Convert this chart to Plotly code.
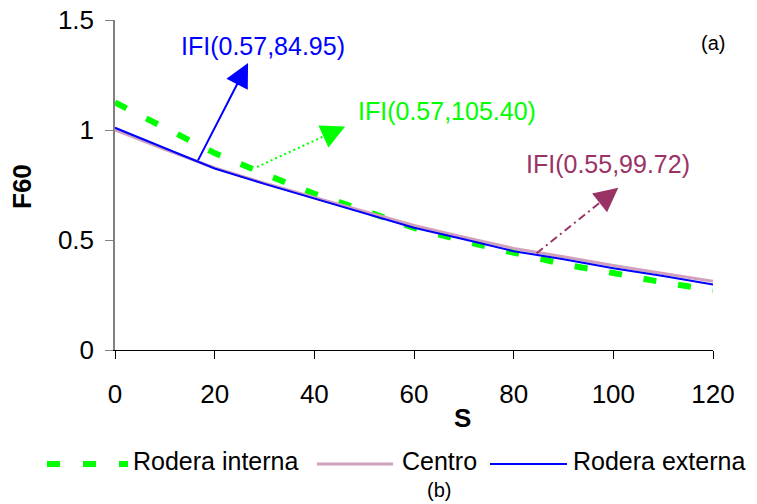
import plotly.graph_objects as go

# Slip speed S and the F60 friction curves for each wheel path
s_values = [0, 10, 20, 30, 40, 50, 60, 70, 80, 90, 100, 110, 120]
rodera_interna = [1.125, 1.01, 0.895, 0.80, 0.71, 0.634, 0.555, 0.495, 0.445, 0.39, 0.35, 0.307, 0.272]
centro = [1.00, 0.912, 0.828, 0.758, 0.693, 0.628, 0.566, 0.513, 0.462, 0.424, 0.384, 0.348, 0.312]
rodera_externa = [1.01, 0.918, 0.825, 0.755, 0.688, 0.620, 0.556, 0.503, 0.449, 0.413, 0.372, 0.336, 0.298]

x_ticks = [0, 20, 40, 60, 80, 100, 120]
y_ticks = [0, 0.5, 1, 1.5]
y_ticktext = ["0", "0.5", "1", "1.5"]

series_names = ["Rodera interna", "Centro", "Rodera externa"]
GREEN = "#00FF00"
PINK = "#D1A0BC"
BLUE = "#0000FF"
PLUM = "#993366"
FONT = "Liberation Sans, Arial, sans-serif"

# IFI labels: (text, colour, tail point on curve, arrow tip, label centre, shaft dash)
ifi_labels = [
    ("IFI(0.57,84.95)", BLUE, (16.5, 0.855), (26.7, 1.305), (29.7, 1.382), "solid"),
    ("IFI(0.57,105.40)", GREEN, (28.5, 0.832), (46.2, 1.016), (66.7, 1.086), "2px,3px"),
    ("IFI(0.55,99.72)", PLUM, (84.6, 0.44), (101.0, 0.737), (98.9, 0.845), "8px,4px,2px,4px"),
]

W, H = 757, 504
L, R, T, B = 115, 44, 20, 154
X_RANGE = [0, 120]
Y_RANGE = [0, 1.5]
px_per_x = (W - L - R) / (X_RANGE[1] - X_RANGE[0])
px_per_y = (H - T - B) / (Y_RANGE[1] - Y_RANGE[0])

fig = go.Figure()
fig.add_trace(go.Scatter(x=s_values, y=rodera_interna, mode="lines", name=series_names[0],
                         line=dict(color=GREEN, width=6, dash="13px,22px"), showlegend=False))
fig.add_trace(go.Scatter(x=s_values, y=centro, mode="lines", name=series_names[1],
                         line=dict(color=PINK, width=3), showlegend=False))
fig.add_trace(go.Scatter(x=s_values, y=rodera_externa, mode="lines", name=series_names[2],
                         line=dict(color=BLUE, width=2), showlegend=False))

shapes = []
annotations = []
HEAD = 18  # arrowhead length in pixels
for text, color, tail, tip, centre, dash in ifi_labels:
    dx_px = (tip[0] - tail[0]) * px_per_x
    dy_px = (tip[1] - tail[1]) * px_per_y
    length = (dx_px ** 2 + dy_px ** 2) ** 0.5
    ux, uy = dx_px / length, dy_px / length
    if dash == "solid":
        start = tail
    else:
        # dashed shaft drawn as a shape, arrowhead from an annotation
        base = (tip[0] - ux * HEAD / px_per_x, tip[1] - uy * HEAD / px_per_y)
        shapes.append(dict(type="line", xref="x", yref="y", x0=tail[0], y0=tail[1],
                           x1=base[0], y1=base[1], line=dict(color=color, width=2, dash=dash)))
        start = (tip[0] - ux * (HEAD - 2) / px_per_x, tip[1] - uy * (HEAD - 2) / px_per_y)
    annotations.append(dict(x=tip[0], y=tip[1], ax=start[0], ay=start[1], axref="x", ayref="y",
                            xref="x", yref="y", text="", showarrow=True, arrowhead=2,
                            arrowsize=2.4, arrowwidth=2, arrowcolor=color, standoff=0))
    annotations.append(dict(x=centre[0], y=centre[1], xref="x", yref="y", text=text,
                            showarrow=False, xanchor="center", yanchor="middle",
                            font=dict(family=FONT, size=25, color=color)))

annotations.append(dict(x=120, y=1.395, xref="x", yref="y", text="(a)", showarrow=False,
                        xanchor="center", yanchor="middle", font=dict(family=FONT, size=20, color="black")))


def px_to_paper(px, py):
    return (px - L) / (W - L - R), (H - B - py) / (H - T - B)


# axis titles
fx, fy = px_to_paper(22, 187)
annotations.append(dict(x=fx, y=fy, xref="paper", yref="paper", text="<b>F60</b>", textangle=-90,
                        showarrow=False, xanchor="center", yanchor="middle",
                        font=dict(family=FONT, size=26, color="black")))
sx, sy = px_to_paper(463, 418)
annotations.append(dict(x=sx, y=sy, xref="paper", yref="paper", text="<b>S</b>", showarrow=False,
                        xanchor="center", yanchor="middle", font=dict(family=FONT, size=26, color="black")))

# legend row
leg_y = px_to_paper(0, 464)[1]
legend_items = [
    (series_names[0], dict(color=GREEN, width=6, dash="13px,23px"), 47, 128, 131),
    (series_names[1], dict(color=PINK, width=3), 317, 393, 400),
    (series_names[2], dict(color=BLUE, width=2), 490, 567, 571),
]
for name, line, x0, x1, tx in legend_items:
    p0 = px_to_paper(x0, 464)[0]
    p1 = px_to_paper(x1, 464)[0]
    shapes.append(dict(type="line", xref="paper", yref="paper", x0=p0, x1=p1, y0=leg_y, y1=leg_y, line=line))
    annotations.append(dict(x=px_to_paper(tx, 0)[0], y=px_to_paper(0, 461)[1], xref="paper", yref="paper",
                            text=name, showarrow=False, xanchor="left", yanchor="middle",
                            font=dict(family=FONT, size=25, color="black")))
bx, by = px_to_paper(439, 490)
annotations.append(dict(x=bx, y=by, xref="paper", yref="paper", text="(b)", showarrow=False,
                        xanchor="center", yanchor="middle", font=dict(family=FONT, size=20, color="black")))

fig.update_layout(
    width=W, height=H,
    margin=dict(l=L, r=R, t=T, b=B),
    paper_bgcolor="white", plot_bgcolor="white",
    shapes=shapes, annotations=annotations,
    showlegend=False,
    xaxis=dict(range=X_RANGE, tickvals=x_ticks, ticks="outside", ticklen=8, tickcolor="black",
               showline=True, linecolor="black", linewidth=1, showgrid=False, zeroline=False,
               automargin=False,
               tickfont=dict(family=FONT, size=26, color="black"), ticklabelstandoff=13),
    yaxis=dict(range=Y_RANGE, tickvals=y_ticks, ticktext=y_ticktext, ticks="outside", ticklen=8,
               tickcolor="#808080", showline=True, linecolor="#808080", linewidth=1.5, showgrid=False,
               automargin=False,
               zeroline=False, tickfont=dict(family=FONT, size=26, color="black"), ticklabelstandoff=6),
)

fig.write_html("out.html")
